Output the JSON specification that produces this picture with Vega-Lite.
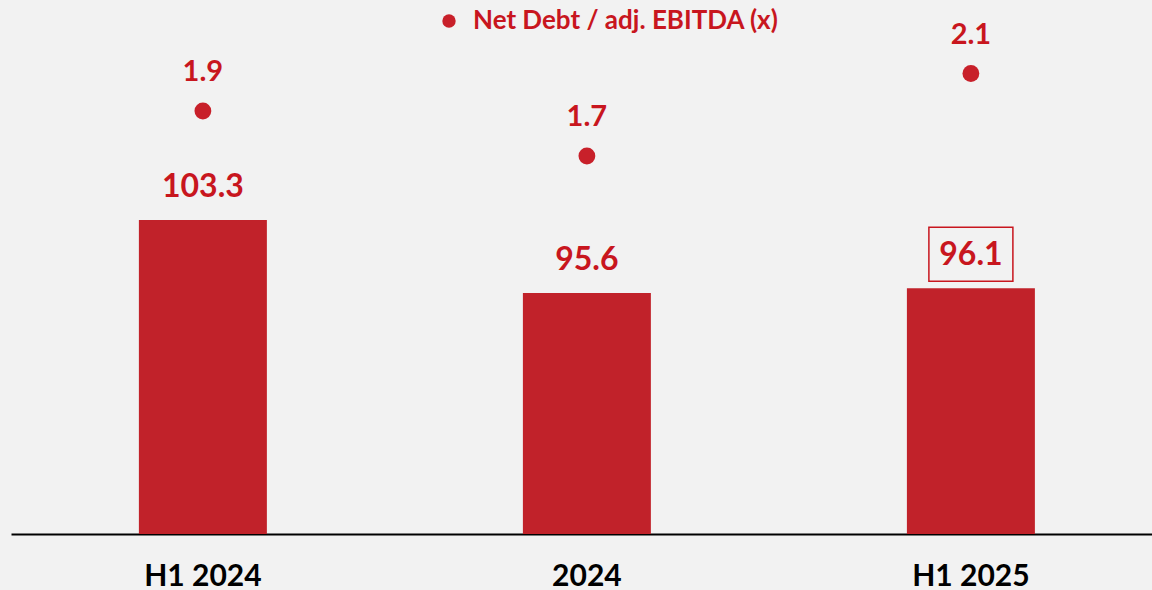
{
  "$schema": "https://vega.github.io/schema/vega-lite/v6.json",
  "autosize": {"type": "none"},
  "padding": {"left": 11, "top": 0, "right": 0, "bottom": 56},
  "width": 1141,
  "height": 534,
  "background": "#f2f2f2",
  "config": {
    "view": {"stroke": null},
    "font": "Lato",
    "axis": {"grid": false}
  },
  "datasets": {
    "debt": [
      {"period": "H1 2024", "net_debt": 103.3, "ratio": 1.92, "series": "Net Debt / adj. EBITDA (x)"},
      {"period": "2024", "net_debt": 95.6, "ratio": 1.74, "series": "Net Debt / adj. EBITDA (x)"},
      {"period": "H1 2025", "net_debt": 96.1, "ratio": 2.07, "series": "Net Debt / adj. EBITDA (x)"}
    ]
  },
  "data": {"name": "debt"},
  "layer": [
    {
      "layer": [
        {
          "mark": {"type": "bar", "color": "#c1222a"},
          "encoding": {
            "x": {
              "field": "period", "type": "nominal", "sort": null,
              "scale": {"paddingInner": 0.6667, "paddingOuter": 0.319, "align": 0.522},
              "axis": {
                "title": null, "labelAngle": 0, "ticks": false,
                "domainColor": "#000000", "domainWidth": 2,
                "labelFont": "Lato", "labelFontWeight": "bold", "labelFontSize": 30,
                "labelColor": "#000000", "labelPadding": 42, "labelBaseline": "middle"
              }
            },
            "y": {
              "field": "net_debt", "type": "quantitative",
              "scale": {"domain": [70.18, 126.51], "zero": false, "nice": false},
              "axis": null
            },
            "y2": {"datum": 70.18}
          }
        },
        {
          "mark": {"type": "text", "dy": -33, "baseline": "middle", "fontSize": 32, "fontWeight": "bold", "color": "#c8161e", "font": "Lato"},
          "encoding": {
            "x": {"field": "period", "type": "nominal", "sort": null},
            "y": {"field": "net_debt", "type": "quantitative"},
            "text": {"field": "net_debt", "type": "quantitative", "format": ".1f"}
          }
        },
        {
          "transform": [{"filter": "datum.period === 'H1 2025'"}],
          "mark": {"type": "point", "shape": "M-1,-0.643H1V0.643H-1Z", "size": 7056, "filled": false, "stroke": "#c8161e", "strokeWidth": 1.5, "yOffset": -34, "opacity": 1},
          "encoding": {
            "x": {"field": "period", "type": "nominal", "sort": null},
            "y": {"field": "net_debt", "type": "quantitative"}
          }
        }
      ]
    },
    {
      "layer": [
        {
          "mark": {"type": "point", "filled": true, "size": 283, "opacity": 1, "shape": "circle"},
          "encoding": {
            "x": {"field": "period", "type": "nominal", "sort": null},
            "y": {
              "field": "ratio", "type": "quantitative",
              "scale": {"domain": [0.228, 2.364], "zero": false, "nice": false},
              "axis": null
            },
            "color": {
              "field": "series", "type": "nominal",
              "scale": {"range": ["#c8202a"]},
              "legend": {
                "title": null, "orient": "none", "legendX": 425, "legendY": 8,
                "padding": 0, "symbolSize": 180, "symbolType": "circle",
                "labelFont": "Lato", "labelFontWeight": "bold", "labelFontSize": 26,
                "labelColor": "#c8161e", "labelOffset": 11, "labelLimit": 0,
                "symbolStrokeWidth": 0, "symbolOpacity": 1
              }
            }
          }
        },
        {
          "mark": {"type": "text", "dy": -39, "baseline": "middle", "fontSize": 29, "fontWeight": "bold", "color": "#c8161e", "font": "Lato"},
          "encoding": {
            "x": {"field": "period", "type": "nominal", "sort": null},
            "y": {"field": "ratio", "type": "quantitative"},
            "text": {"field": "ratio", "type": "quantitative", "format": ".1f"}
          }
        }
      ]
    }
  ],
  "resolve": {"scale": {"y": "independent"}}
}
